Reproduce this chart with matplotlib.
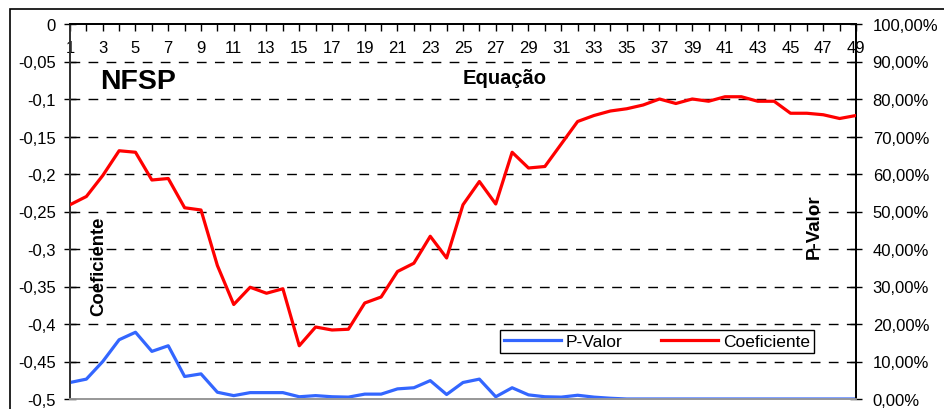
import matplotlib
matplotlib.use("Agg")
import matplotlib.pyplot as plt
from matplotlib.patches import Rectangle
from matplotlib.ticker import FixedLocator, FixedFormatter

plt.rcParams['font.family'] = ['Liberation Sans', 'DejaVu Sans']

equacao = list(range(1, 50))
coeficiente = [-0.241, -0.230, -0.202, -0.169, -0.171, -0.208, -0.206, -0.245, -0.248, -0.322,
               -0.374, -0.351, -0.359, -0.353, -0.429, -0.404, -0.408, -0.407, -0.372, -0.364,
               -0.330, -0.319, -0.283, -0.312, -0.241, -0.210, -0.240, -0.171, -0.192, -0.190,
               -0.160, -0.130, -0.122, -0.116, -0.113, -0.108, -0.100, -0.106, -0.100, -0.103,
               -0.097, -0.097, -0.103, -0.103, -0.119, -0.119, -0.121, -0.126, -0.122]
p_valor = [0.044, 0.053, 0.100, 0.158, 0.178, 0.127, 0.142, 0.060, 0.067, 0.018,
           0.009, 0.017, 0.017, 0.017, 0.006, 0.009, 0.006, 0.005, 0.013, 0.013,
           0.027, 0.030, 0.049, 0.012, 0.044, 0.053, 0.006, 0.030, 0.011, 0.006,
           0.005, 0.010, 0.005, 0.002, 0.000, 0.000, 0.000, 0.000, 0.000, 0.000,
           0.000, 0.000, 0.000, 0.000, 0.000, 0.000, 0.000, 0.000, 0.000]
left_ticks = [0, -0.05, -0.1, -0.15, -0.2, -0.25, -0.3, -0.35, -0.4, -0.45, -0.5]
left_labels = ['0', '-0,05', '-0,1', '-0,15', '-0,2', '-0,25', '-0,3', '-0,35', '-0,4', '-0,45', '-0,5']
right_ticks = [i / 10 for i in range(11)]
right_labels = ['%d,00%%' % (i * 10) for i in range(11)]

W, H = 945, 410
fig = plt.figure(figsize=(W / 100, H / 100), dpi=100)
x0, x1, y0, y1 = 70, 856, 25, 400
ax = fig.add_axes([x0 / W, 1 - y1 / H, (x1 - x0) / W, (y1 - y0) / H])
ax2 = ax.twinx()

# outer frame
fig.patches.append(Rectangle((10 / W, -0.5), 2, 1 - 10 / H + 0.5, transform=fig.transFigure,
                             fill=False, ec='black', lw=1.2))

ax.set_xlim(1, 49)
ax.set_ylim(-0.5, 0)
ax2.set_ylim(0, 1)

# grid
for v in left_ticks[1:-1]:
    ax.axhline(v, color='black', lw=1, ls=(0, (7, 6)), zorder=1)

l1, = ax2.plot(equacao, p_valor, color='#3366FF', lw=2.3, label='P-Valor', zorder=3)
l2, = ax.plot(equacao, coeficiente, color='#FF0000', lw=2.3, label='Coeficiente', zorder=3)
ax.set_zorder(ax2.get_zorder() + 1)
ax.patch.set_visible(False)

# spines
for a in (ax, ax2):
    a.spines['top'].set_color('black')
    a.spines['bottom'].set_color('#999999')
    a.spines['left'].set_color('#333333')
    a.spines['right'].set_color('black')
    for s in a.spines.values():
        s.set_linewidth(1.3)

# x ticks on top, labels inside
ax.xaxis.set_major_locator(FixedLocator(equacao))
ax.xaxis.set_major_formatter(FixedFormatter([str(e) if e % 2 == 1 else '' for e in equacao]))
ax.tick_params(axis='x', bottom=False, labelbottom=False, top=True, labeltop=True,
               direction='in', length=5, width=1, pad=-22, labelsize=12)

ax.yaxis.set_major_locator(FixedLocator(left_ticks))
ax.yaxis.set_major_formatter(FixedFormatter(left_labels))
ax.tick_params(axis='y', direction='inout', length=8, width=1, labelsize=12, pad=6)

ax2.yaxis.set_major_locator(FixedLocator(right_ticks))
ax2.yaxis.set_major_formatter(FixedFormatter(right_labels))
ax2.tick_params(axis='y', direction='inout', length=8, width=1, labelsize=12, pad=8)
ax2.tick_params(axis='x', bottom=False, top=False, labelbottom=False)

# texts
fig.text(100 / W, 1 - 82 / H, 'NFSP', fontsize=20.5, fontweight='bold', ha='left', va='center')
fig.text(505 / W, 1 - 79 / H, 'Equação', fontsize=14.5, fontweight='bold', ha='center', va='center')
fig.text(99 / W, 1 - 266 / H, 'Coeficiente', fontsize=13.3, fontweight='bold', rotation=90,
         ha='center', va='center')
fig.text(814 / W, 1 - 227 / H, 'P-Valor', fontsize=13.5, fontweight='bold', rotation=90,
         ha='center', va='center')

leg = ax.legend([l1, l2], ['P-Valor', 'Coeficiente'], ncol=2, loc='center',
                bbox_to_anchor=(657 / W, 1 - 342.5 / H), bbox_transform=fig.transFigure,
                fancybox=False, edgecolor='black', framealpha=1, fontsize=12.5,
                handlelength=3.3, columnspacing=2.2, borderpad=0.2, handletextpad=0.3)
leg.get_frame().set_linewidth(1)

fig.savefig('out.png', dpi=100)
